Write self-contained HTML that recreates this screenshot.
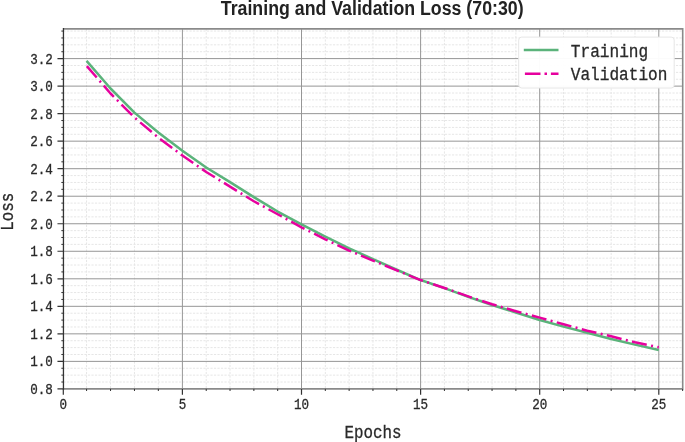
<!DOCTYPE html>
<html><head><meta charset="utf-8"><style>
html,body{margin:0;padding:0;background:#fff;width:685px;height:442px;overflow:hidden}
svg{display:block;font-family:"Liberation Mono",monospace;will-change:transform}
text{stroke:#2a2a2a;stroke-width:0.3px}
text.t{stroke:none}
</style></head><body>
<svg font-family="Liberation Mono" font-size="14.3" fill="#2a2a2a" width="685" height="442" viewBox="0 0 685 442">
<rect width="685" height="442" fill="#fff"/>
<path d="M86.57 28.90V388.90M110.54 28.90V388.90M134.46 28.90V388.90M158.33 28.90V388.90M206.22 28.90V388.90M230.04 28.90V388.90M253.86 28.90V388.90M277.68 28.90V388.90M325.32 28.90V388.90M349.14 28.90V388.90M372.96 28.90V388.90M396.78 28.90V388.90M444.42 28.90V388.90M468.24 28.90V388.90M492.06 28.90V388.90M515.88 28.90V388.90M563.52 28.90V388.90M587.34 28.90V388.90M611.16 28.90V388.90M634.98 28.90V388.90M682.62 28.90V388.90M63.45 382.02H682.70M63.45 375.14H682.70M63.45 368.26H682.70M63.45 354.49H682.70M63.45 347.61H682.70M63.45 340.73H682.70M63.45 326.97H682.70M63.45 320.09H682.70M63.45 313.21H682.70M63.45 299.44H682.70M63.45 292.56H682.70M63.45 285.68H682.70M63.45 271.92H682.70M63.45 265.04H682.70M63.45 258.16H682.70M63.45 244.39H682.70M63.45 237.51H682.70M63.45 230.63H682.70M63.45 216.87H682.70M63.45 209.99H682.70M63.45 203.11H682.70M63.45 189.34H682.70M63.45 182.46H682.70M63.45 175.58H682.70M63.45 161.82H682.70M63.45 154.94H682.70M63.45 148.06H682.70M63.45 134.29H682.70M63.45 127.41H682.70M63.45 120.53H682.70M63.45 106.77H682.70M63.45 99.89H682.70M63.45 93.01H682.70M63.45 79.24H682.70M63.45 72.36H682.70M63.45 65.48H682.70M63.45 51.72H682.70M63.45 44.84H682.70M63.45 37.96H682.70M63.45 31.07H682.70" stroke="#e6e6e6" stroke-width="1" stroke-dasharray="2.2 1.3" fill="none"/>
<path d="M182.40 28.90V388.90M301.50 28.90V388.90M420.60 28.90V388.90M539.70 28.90V388.90M658.80 28.90V388.90M63.45 361.38H682.70M63.45 333.85H682.70M63.45 306.32H682.70M63.45 278.80H682.70M63.45 251.27H682.70M63.45 223.75H682.70M63.45 196.22H682.70M63.45 168.70H682.70M63.45 141.17H682.70M63.45 113.65H682.70M63.45 86.12H682.70M63.45 58.60H682.70" stroke="#969696" stroke-width="1.0" fill="none"/>
<polyline points="86.57,60.90 110.54,88.50 134.46,112.60 158.33,132.55 182.40,150.65 206.22,167.55 230.04,182.15 253.86,197.15 277.68,211.55 301.50,224.45 325.32,236.65 349.14,248.35 372.96,259.05 396.78,269.75 420.60,280.05 444.42,288.15 468.24,296.85 492.06,305.05 515.88,312.50 539.70,320.00 563.52,326.60 587.34,332.70 611.16,339.00 634.98,344.60 658.80,350.00" fill="none" stroke="#5bb37b" stroke-width="2.5" stroke-linejoin="round"/>
<polyline points="86.57,65.80 110.54,93.50 134.46,117.60 158.33,137.55 182.40,155.55 206.22,171.95 230.04,186.65 253.86,201.25 277.68,214.25 301.50,227.35 325.32,239.35 349.14,250.65 372.96,260.65 396.78,270.35 420.60,280.05 444.42,287.95 468.24,296.35 492.06,304.25 515.88,311.20 539.70,317.60 563.52,324.30 587.34,330.70 611.16,336.30 634.98,342.30 658.80,347.30" fill="none" stroke="#e6009e" stroke-width="2.5" stroke-dasharray="15.1 4.4 2 4.38" stroke-dashoffset="-0.4" stroke-linejoin="round"/>
<path d="M63.45 28.90H682.70V388.90H63.45" stroke="#8a8a8a" stroke-width="1.6" fill="none"/>
<path d="M63.45 28.10V389.70" stroke="#333" stroke-width="1.3" fill="none"/>
<path d="M57.45 388.90H63.45M57.45 361.38H63.45M57.45 333.85H63.45M57.45 306.32H63.45M57.45 278.80H63.45M57.45 251.27H63.45M57.45 223.75H63.45M57.45 196.22H63.45M57.45 168.70H63.45M57.45 141.17H63.45M57.45 113.65H63.45M57.45 86.12H63.45M57.45 58.60H63.45M63.30 388.90V394.70M182.40 388.90V394.70M301.50 388.90V394.70M420.60 388.90V394.70M539.70 388.90V394.70M658.80 388.90V394.70" stroke="#333" stroke-width="1.2" fill="none"/>
<path d="M61.35 382.02H63.45M61.35 375.14H63.45M61.35 368.26H63.45M61.35 354.49H63.45M61.35 347.61H63.45M61.35 340.73H63.45M61.35 326.97H63.45M61.35 320.09H63.45M61.35 313.21H63.45M61.35 299.44H63.45M61.35 292.56H63.45M61.35 285.68H63.45M61.35 271.92H63.45M61.35 265.04H63.45M61.35 258.16H63.45M61.35 244.39H63.45M61.35 237.51H63.45M61.35 230.63H63.45M61.35 216.87H63.45M61.35 209.99H63.45M61.35 203.11H63.45M61.35 189.34H63.45M61.35 182.46H63.45M61.35 175.58H63.45M61.35 161.82H63.45M61.35 154.94H63.45M61.35 148.06H63.45M61.35 134.29H63.45M61.35 127.41H63.45M61.35 120.53H63.45M61.35 106.77H63.45M61.35 99.89H63.45M61.35 93.01H63.45M61.35 79.24H63.45M61.35 72.36H63.45M61.35 65.48H63.45M61.35 51.72H63.45M61.35 44.84H63.45M61.35 37.96H63.45M61.35 31.07H63.45M86.57 388.90V391.00M110.54 388.90V391.00M134.46 388.90V391.00M158.33 388.90V391.00M206.22 388.90V391.00M230.04 388.90V391.00M253.86 388.90V391.00M277.68 388.90V391.00M325.32 388.90V391.00M349.14 388.90V391.00M372.96 388.90V391.00M396.78 388.90V391.00M444.42 388.90V391.00M468.24 388.90V391.00M492.06 388.90V391.00M515.88 388.90V391.00M563.52 388.90V391.00M587.34 388.90V391.00M611.16 388.90V391.00M634.98 388.90V391.00M682.62 388.90V391.00" stroke="#333" stroke-width="1" fill="none"/>
<text x="52.9" y="393.80" text-anchor="end" textLength="22.65" lengthAdjust="spacingAndGlyphs">0.8</text>
<text x="52.9" y="366.27" text-anchor="end" textLength="22.65" lengthAdjust="spacingAndGlyphs">1.0</text>
<text x="52.9" y="338.75" text-anchor="end" textLength="22.65" lengthAdjust="spacingAndGlyphs">1.2</text>
<text x="52.9" y="311.22" text-anchor="end" textLength="22.65" lengthAdjust="spacingAndGlyphs">1.4</text>
<text x="52.9" y="283.70" text-anchor="end" textLength="22.65" lengthAdjust="spacingAndGlyphs">1.6</text>
<text x="52.9" y="256.17" text-anchor="end" textLength="22.65" lengthAdjust="spacingAndGlyphs">1.8</text>
<text x="52.9" y="228.65" text-anchor="end" textLength="22.65" lengthAdjust="spacingAndGlyphs">2.0</text>
<text x="52.9" y="201.12" text-anchor="end" textLength="22.65" lengthAdjust="spacingAndGlyphs">2.2</text>
<text x="52.9" y="173.60" text-anchor="end" textLength="22.65" lengthAdjust="spacingAndGlyphs">2.4</text>
<text x="52.9" y="146.07" text-anchor="end" textLength="22.65" lengthAdjust="spacingAndGlyphs">2.6</text>
<text x="52.9" y="118.55" text-anchor="end" textLength="22.65" lengthAdjust="spacingAndGlyphs">2.8</text>
<text x="52.9" y="91.02" text-anchor="end" textLength="22.65" lengthAdjust="spacingAndGlyphs">3.0</text>
<text x="52.9" y="63.50" text-anchor="end" textLength="22.65" lengthAdjust="spacingAndGlyphs">3.2</text>
<text x="63.30" y="408.6" text-anchor="middle" textLength="7.55" lengthAdjust="spacingAndGlyphs">0</text>
<text x="182.40" y="408.6" text-anchor="middle" textLength="7.55" lengthAdjust="spacingAndGlyphs">5</text>
<text x="301.50" y="408.6" text-anchor="middle" textLength="15.10" lengthAdjust="spacingAndGlyphs">10</text>
<text x="420.60" y="408.6" text-anchor="middle" textLength="15.10" lengthAdjust="spacingAndGlyphs">15</text>
<text x="539.70" y="408.6" text-anchor="middle" textLength="15.10" lengthAdjust="spacingAndGlyphs">20</text>
<text x="658.80" y="408.6" text-anchor="middle" textLength="15.10" lengthAdjust="spacingAndGlyphs">25</text>
<text x="373.0" y="437.9" text-anchor="middle" font-size="17.8" textLength="57" lengthAdjust="spacingAndGlyphs">Epochs</text>
<text transform="translate(13.0 211.8) rotate(-90)" x="0" y="0" text-anchor="middle" font-size="17.8" textLength="38" lengthAdjust="spacingAndGlyphs">Loss</text>
<text class="t" x="372.2" y="14.6" text-anchor="middle" font-family="Liberation Sans" font-weight="bold" font-size="19.4" fill="#222" textLength="302.8" lengthAdjust="spacingAndGlyphs">Training and Validation Loss (70:30)</text>
<rect x="518.7" y="37.1" width="155.5" height="50.9" rx="3" ry="3" fill="#fff" fill-opacity="0.96" stroke="#e6e6e6" stroke-width="1"/>
<path d="M523.8 50.05H558.5" stroke="#5bb37b" stroke-width="2.5"/>
<path d="M524.9 73.7H558.5" stroke="#e6009e" stroke-width="2.5" stroke-dasharray="15.6 4 2.5 3.9"/>
<text x="570.8" y="56.7" font-size="17.8" textLength="77.4" lengthAdjust="spacingAndGlyphs">Training</text>
<text x="570.8" y="79.8" font-size="17.8" textLength="96.6" lengthAdjust="spacingAndGlyphs">Validation</text>
</svg>
</body></html>
